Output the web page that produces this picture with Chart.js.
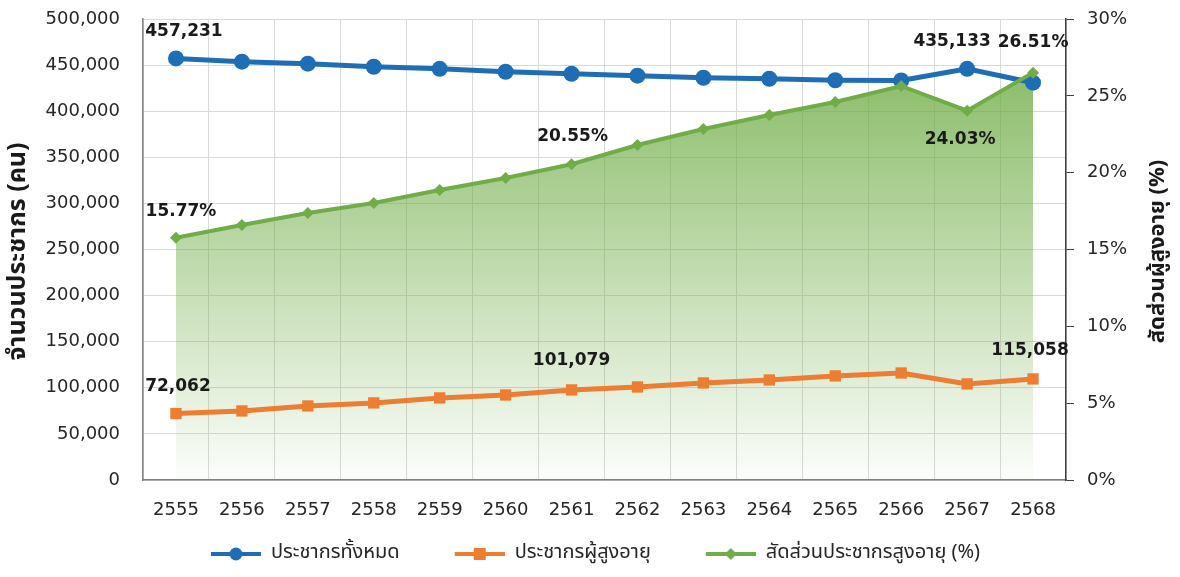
<!DOCTYPE html>
<html>
<head>
<meta charset="utf-8">
<script src="https://cdn.jsdelivr.net/npm/chart.js@4/dist/chart.umd.min.js"></script>
<style>
  html, body { margin: 0; padding: 0; background: #fff; }
  #wrap { width: 1180px; height: 577px; position: relative; }
</style>
</head>
<body>
<div id="wrap"><canvas id="popChart"></canvas></div>
<script>
// data
const years = ["2555", "2556", "2557", "2558", "2559", "2560", "2561", "2562", "2563", "2564", "2565", "2566", "2567", "2568"];
const totalPop = [457231, 453700, 451500, 448200, 446000, 442800, 440600, 438500, 436300, 435200, 433600, 433300, 446000, 430900];
const elderlyPop = [72062, 74900, 80300, 83600, 89000, 92200, 97700, 100900, 105300, 108500, 112900, 116100, 104200, 109600];
const elderlyShare = [15.77, 16.59, 17.37, 18.03, 18.87, 19.65, 20.55, 21.80, 22.84, 23.75, 24.60, 25.64, 24.03, 26.51];

// value labels shown on the chart (null = no label)
const totalLabels = ["457,231", null, null, null, null, null, null, null, null, null, null, null, "435,133", null];
const elderlyLabels = ["72,062", null, null, null, null, null, "101,079", null, null, null, null, null, null, "115,058"];
const shareLabels = ["15.77%", null, null, null, null, null, "20.55%", null, null, null, null, null, "24.03%", "26.51%"];

const leftTicks = [0, 50000, 100000, 150000, 200000, 250000, 300000, 350000, 400000, 450000, 500000];
const rightTicks = [0, 5, 10, 15, 20, 25, 30];

const seriesNames = ["ประชากรทั้งหมด", "ประชากรผู้สูงอายุ", "สัดส่วนประชากรสูงอายุ (%)"];
const leftTitle = "จำนวนประชากร (คน)";
const rightTitle = "สัดส่วนผู้สูงอายุ (%)";

const BLUE = "#1f6eb5";
const ORANGE = "#ed7d31";
const GREEN = "#70ad47";
const NUM_FONT = '"DejaVu Sans", sans-serif';
const THAI_FONT = '"Noto Sans Thai", "Noto Sans", "DejaVu Sans", sans-serif';

// label offsets from the point (dx, dy), per dataset index
const labelOffsets = [
  { 0: [8, -27], 12: [-15, -27] },
  { 0: [2, -27], 6: [0, -29], 13: [-3, -28] },
  { 0: [5, -26], 6: [1, -28], 12: [-7, 29], 13: [0, -30] },
];
const labelSets = [totalLabels, elderlyLabels, shareLabels];

// legend icon: line with marker; blank space on the left widens the gap between items
const ICON_GAP = 31;
function legendIcon(color, style) {
  const cv = document.createElement("canvas");
  cv.width = 50 + ICON_GAP;
  cv.height = 16;
  const c = cv.getContext("2d");
  const x0 = ICON_GAP, cx = ICON_GAP + 25;
  c.strokeStyle = color;
  c.lineWidth = 4;
  c.beginPath();
  c.moveTo(x0, 8);
  c.lineTo(x0 + 50, 8);
  c.stroke();
  c.fillStyle = color;
  if (style === "circle") {
    c.beginPath();
    c.arc(cx, 8, 6.5, 0, Math.PI * 2);
    c.fill();
  } else if (style === "rect") {
    c.fillRect(cx - 6, 2, 12, 12);
  } else {
    c.beginPath();
    c.moveTo(cx, 2);
    c.lineTo(cx + 6, 8);
    c.lineTo(cx, 14);
    c.lineTo(cx - 6, 8);
    c.closePath();
    c.fill();
  }
  return cv;
}
const icons = [legendIcon(BLUE, "circle"), legendIcon(ORANGE, "rect"), legendIcon(GREEN, "diamond")];

const valueLabels = {
  id: "valueLabels",
  afterDatasetsDraw(chart) {
    const ctx = chart.ctx;
    ctx.save();
    ctx.font = "bold 17px " + NUM_FONT;
    ctx.fillStyle = "#1a1a1a";
    ctx.textAlign = "center";
    ctx.textBaseline = "middle";
    labelSets.forEach((labels, di) => {
      const meta = chart.getDatasetMeta(di);
      labels.forEach((txt, i) => {
        if (!txt) return;
        const pt = meta.data[i];
        const off = labelOffsets[di][i] || [0, -26];
        ctx.fillText(txt, pt.x + off[0], pt.y + off[1]);
      });
    });
    ctx.restore();
  },
};

const axisTitles = {
  id: "axisTitles",
  afterDraw(chart) {
    const ctx = chart.ctx;
    const area = chart.chartArea;
    const midY = (area.top + area.bottom) / 2 + 2;
    ctx.save();
    ctx.fillStyle = "#1a1a1a";
    ctx.textAlign = "center";
    ctx.textBaseline = "middle";
    [[20, leftTitle, 25], [1160, rightTitle, 22]].forEach(([x, txt, size]) => {
      ctx.save();
      ctx.font = "bold " + size + "px " + THAI_FONT;
      ctx.translate(x, midY);
      ctx.rotate(-Math.PI / 2);
      ctx.fillText(txt, 0, 0);
      ctx.restore();
    });
    ctx.restore();
  },
};

// the vertical axes add their tick padding above the top label; keep only half a label
function fitVertical(width) {
  return (s) => {
    s.width = width;
    s.paddingTop = 11;
    s.paddingBottom = 11;
  };
}

const ctx = document.getElementById("popChart").getContext("2d");
const popChart = new Chart(ctx, {
  type: "line",
  data: {
    labels: years,
    datasets: [
      {
        label: seriesNames[0],
        data: totalPop,
        yAxisID: "y",
        borderColor: BLUE,
        backgroundColor: BLUE,
        borderWidth: 5,
        pointStyle: "circle",
        pointRadius: 8,
        pointBackgroundColor: BLUE,
        pointBorderWidth: 0,
        tension: 0,
        fill: false,
        order: 2,
      },
      {
        label: seriesNames[1],
        data: elderlyPop,
        yAxisID: "y",
        borderColor: ORANGE,
        backgroundColor: ORANGE,
        borderWidth: 5,
        pointStyle: "rect",
        pointRadius: 8,
        pointBackgroundColor: ORANGE,
        pointBorderWidth: 0,
        tension: 0,
        fill: false,
        order: 1,
      },
      {
        label: seriesNames[2],
        data: elderlyShare,
        yAxisID: "y1",
        borderColor: GREEN,
        backgroundColor: function (context) {
          const area = context.chart.chartArea;
          if (!area) return "rgba(112, 173, 71, 0.4)";
          const g = context.chart.ctx.createLinearGradient(0, area.top + 55, 0, area.bottom);
          g.addColorStop(0, "rgba(112, 173, 71, 0.8)");
          g.addColorStop(0.5, "rgba(112, 173, 71, 0.42)");
          g.addColorStop(1, "rgba(112, 173, 71, 0.02)");
          return g;
        },
        borderWidth: 4,
        pointStyle: "rectRot",
        pointRadius: 6,
        pointBackgroundColor: GREEN,
        pointBorderWidth: 0,
        tension: 0,
        fill: "origin",
        order: 0,
      },
    ],
  },
  options: {
    responsive: true,
    maintainAspectRatio: false,
    animation: false,
    layout: {
      padding: { top: 19, right: 20, bottom: 3, left: 0 },
    },
    plugins: {
      filler: { drawTime: "beforeDatasetsDraw" },
      tooltip: { enabled: false },
      legend: {
        position: "bottom",
        labels: {
          usePointStyle: true,
          pointStyleWidth: 50 + ICON_GAP,
          padding: 24,
          color: "#262626",
          font: { family: THAI_FONT, size: 20 },
          sort: (a, b) => a.datasetIndex - b.datasetIndex,
          generateLabels: function (chart) {
            const items = Chart.defaults.plugins.legend.labels.generateLabels(chart);
            items.forEach((it) => {
              it.pointStyle = icons[it.datasetIndex];
            });
            return items;
          },
        },
      },
    },
    scales: {
      x: {
        offset: true,
        grid: { color: "#d9d9d9", offset: true, drawTicks: false },
        border: { color: "#7f7f7f", width: 1.5 },
        ticks: { color: "#262626", padding: 20, font: { family: NUM_FONT, size: 18 } },
        afterFit: (s) => { s.height = 40; },
      },
      y: {
        position: "left",
        min: 0,
        max: 500000,
        grid: { color: "#d9d9d9", drawTicks: false },
        border: { color: "#7f7f7f", width: 1.5 },
        ticks: {
          color: "#262626",
          padding: 23,
          font: { family: NUM_FONT, size: 18 },
          callback: (v) => v.toLocaleString("en-US"),
        },
        afterBuildTicks: (s) => { s.ticks = leftTicks.map((v) => ({ value: v })); },
        afterFit: fitVertical(143),
      },
      y1: {
        position: "right",
        min: 0,
        max: 30,
        grid: { drawOnChartArea: false, drawTicks: true, tickLength: 8, tickColor: "#404040" },
        border: { color: "#404040", width: 1.5 },
        ticks: {
          color: "#262626",
          padding: 13,
          font: { family: NUM_FONT, size: 18 },
          callback: (v) => v + "%",
        },
        afterBuildTicks: (s) => { s.ticks = rightTicks.map((v) => ({ value: v })); },
        afterFit: fitVertical(94),
      },
    },
  },
  plugins: [valueLabels, axisTitles],
});
</script>
</body>
</html>
